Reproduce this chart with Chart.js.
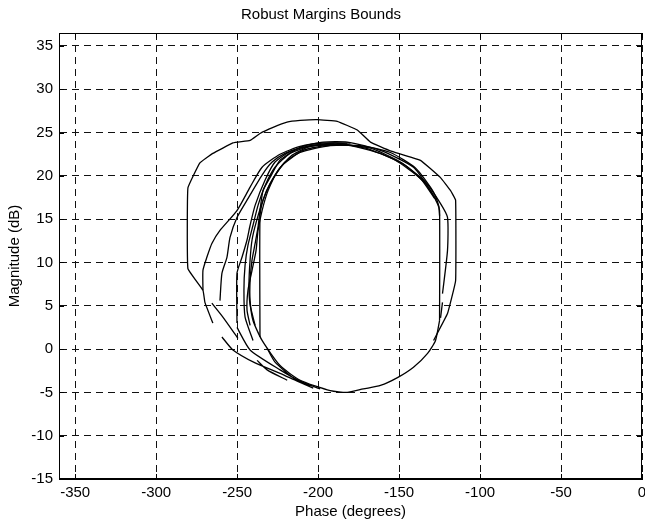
<!DOCTYPE html>
<html><head><meta charset="utf-8">
<script src="https://cdn.jsdelivr.net/npm/chart.js@4.4.1/dist/chart.umd.min.js"></script>
<style>html,body{margin:0;padding:0;background:#fff;}canvas{display:block;}</style>
</head><body>
<canvas id="c" width="645" height="524"></canvas>
<script>
// Axis ticks
const xTicks = [-350, -300, -250, -200, -150, -100, -50, 0];
const yTicks = [-15, -10, -5, 0, 5, 10, 15, 20, 25, 30, 35];

// Outer bound curve
const outerPhase = [-128.7, -120.1, -115.1, -115.1, -118.2, -124.4, -136.8, -155.4, -167.7, -175.8, -188.2, -200.6, -211.1, -219.2, -227.8, -235.9, -242.0, -252.6, -265.0, -273.0, -280.4, -280.4, -271.1, -269.9, -265.0];
const outerMag   = [1.0, 4.1, 7.9, 17.2, 18.3, 19.8, 21.8, 22.9, 23.9, 25.3, 26.3, 26.5, 26.4, 26.2, 25.6, 24.9, 24.1, 23.8, 22.6, 21.5, 18.6, 9.3, 6.8, 5.4, 3.0];

// Inner loops
const inner1Phase = [-125.0, -125.0, -126.3, -130.6, -141.1, -161.5, -182.0, -196.8, -211.1, -223.5, -229.7, -234.0, -235.9, -237.1, -238.9, -240.8, -242.0, -242.0, -240.2, -234.6, -223.5, -211.1, -192.5, -182.0, -172.1, -161.5, -151.0, -141.1, -132.4, -127.5, -125.0];
const inner1Mag   = [3.3, 16.0, 16.8, 18.3, 21.0, 22.95, 23.9, 23.9, 23.3, 21.8, 19.8, 18.3, 16.0, 14.1, 12.2, 10.3, 7.9, 5.6, 3.3, 1.0, -1.9, -3.6, -4.8, -5.0, -4.6, -4.2, -3.3, -2.1, -0.5, 1.0, 3.3];

const inner2Phase = [-123.2, -120.1, -120.1, -124.4, -133.7, -149.2, -167.7, -186.3, -204.9, -217.3, -226.6, -232.7, -237.1, -240.2, -243.3, -245.1, -245.8, -245.1, -240.2];
const inner2Mag   = [6.4, 11.4, 15.2, 16.8, 19.3, 21.6, 23.2, 23.6, 23.4, 22.6, 21.0, 18.9, 16.6, 14.3, 12.0, 9.7, 6.8, 3.7, 1.0];

const inner3Phase = [-235.9, -235.9, -234.0, -229.7, -222.2, -211.1, -192.5, -173.9, -155.4, -139.9, -129.3, -125.6, -125.0];
const inner3Mag   = [1.4, 15.2, 17.2, 19.1, 21.2, 22.7, 23.5, 23.5, 22.7, 20.9, 18.3, 16.6, 15.4];

const inner4Phase = [-180.0, -196.8, -211.1, -223.5, -234.6, -242.0, -250.1, -260.6, -265.6, -268.7, -271.1, -271.1];
const inner4Mag   = [23.8, 23.8, 23.4, 22.5, 21.0, 18.7, 16.0, 13.7, 12.2, 10.6, 9.1, 6.8];

const inner5Phase = [-182.0, -198.0, -211.1, -220.4, -228.4, -234.6, -243.9, -250.1, -254.4, -256.3, -259.4, -260.6];
const inner5Mag   = [23.7, 23.6, 23.2, 22.6, 21.6, 20.1, 17.2, 15.2, 12.9, 10.6, 8.75, 5.6];

const inner6Phase = [-190.0, -205.0, -217.3, -226.6, -232.8, -238.9, -242.0, -243.9, -247.0, -250.1, -250.1];
const inner6Mag   = [23.7, 23.5, 22.8, 21.6, 19.5, 16.6, 14.3, 12.6, 10.6, 8.75, 3.0];

const inner7Phase = [-126.9, -133.7, -146.1, -161.5, -180.1, -195.6, -209.2, -220.4, -228.4, -234.0, -238.3, -240.8, -242.0, -242.7, -242.0, -238.9];
const inner7Mag   = [17.2, 19.1, 21.2, 22.6, 23.5, 23.5, 22.95, 21.6, 19.5, 17.2, 14.6, 12.6, 10.3, 7.4, 5.1, 2.75];

const inner8Phase = [-128.1, -136.8, -152.3, -170.8, -189.4, -204.9, -216.0, -224.7, -230.9, -234.6, -237.1, -238.3, -240.8, -243.3, -243.9, -242.0];
const inner8Mag   = [17.4, 19.7, 21.8, 23.2, 23.8, 23.4, 22.4, 20.65, 18.3, 16.0, 13.7, 11.4, 9.1, 6.8, 4.5, 2.75];

// Short broken pieces near the bottom-left (null = break)
const fragPhase = [-259.4, -252.6, -238.9, -223.5, -212.9, -203.0, null, -265.6, -258.8, -249.5, null, -250.1, -242.0, -223.5, -211.1, -198.7, null, -231.5, -226.6, -215.4, -204.9, null, -237.7, -231.5, -219.1, null, -123.2, -124.4];
const fragMag   = [1.4, -0.1, -1.6, -2.8, -3.7, -4.5, null, 5.3, 3.7, 1.25, null, 2.5, -0.1, -2.4, -3.7, -4.6, null, 0.1, -1.5, -3.3, -4.3, null, -1.3, -2.4, -3.6, null, 5.4, 3.6];

const curves = [
  [outerPhase, outerMag], [inner1Phase, inner1Mag], [inner2Phase, inner2Mag],
  [inner3Phase, inner3Mag], [inner4Phase, inner4Mag], [inner5Phase, inner5Mag],
  [inner6Phase, inner6Mag], [inner7Phase, inner7Mag], [inner8Phase, inner8Mag],
  [fragPhase, fragMag]
];

function toPoints(ph, mg) {
  return ph.map((p, i) => ({ x: p, y: (p === null || mg[i] === null) ? null : mg[i] }));
}

const FONT = "'Liberation Sans', Arial, Helvetica, sans-serif";

const boxPlugin = {
  id: 'matlabBox',
  afterDraw(chart) {
    const { ctx, chartArea: a, scales: { x, y } } = chart;
    ctx.save();
    ctx.strokeStyle = '#000';
    ctx.lineWidth = 1;
    ctx.strokeRect(Math.round(a.left) + 0.5, Math.round(a.top) + 0.5,
      Math.round(a.right - a.left) - 1, Math.round(a.bottom - a.top) - 1);
    const L = 5;
    ctx.beginPath();
    x.ticks.forEach(t => {
      const px = Math.round(x.getPixelForValue(t.value)) + 0.5;
      ctx.moveTo(px, a.bottom); ctx.lineTo(px, a.bottom - L);
      ctx.moveTo(px, a.top); ctx.lineTo(px, a.top + L);
    });
    y.ticks.forEach(t => {
      const py = Math.round(y.getPixelForValue(t.value)) + 0.5;
      ctx.moveTo(a.left, py); ctx.lineTo(a.left + L, py);
      ctx.moveTo(a.right, py); ctx.lineTo(a.right - L, py);
    });
    ctx.stroke();
    ctx.restore();
  }
};

new Chart(document.getElementById('c'), {
  type: 'scatter',
  data: {
    datasets: curves.map(([ph, mg], k) => ({
      data: toPoints(ph, mg),
      showLine: true,
      borderColor: '#000',
      borderWidth: 1.3,
      pointRadius: 0,
      spanGaps: false,
      tension: k === 0 ? 0.08 : 0.2
    }))
  },
  options: {
    responsive: false,
    animation: false,
    devicePixelRatio: 1,
    layout: { padding: { left: 0, right: 3, top: 0, bottom: 0 } },
    plugins: {
      legend: { display: false },
      tooltip: { enabled: false },
      title: {
        display: true,
        text: 'Robust Margins Bounds',
        color: '#000',
        font: { family: FONT, size: 15, weight: 'normal' },
        padding: { top: 6, bottom: 9 }
      }
    },
    scales: {
      x: {
        type: 'linear',
        min: -360, max: 0,
        afterBuildTicks: s => { s.ticks = xTicks.map(v => ({ value: v })); },
        afterFit: s => { s.height = 45; s.paddingLeft = 0; s.paddingRight = 0; },
        ticks: { color: '#000', font: { family: FONT, size: 15 }, padding: 5, maxRotation: 0, autoSkip: false },
        grid: { color: '#111', lineWidth: 1, drawTicks: false, borderDash: [7, 5] },
        border: { display: true, color: '#000', width: 1, dash: [7, 5] },
        title: { display: true, text: 'Phase (degrees)', color: '#000', font: { family: FONT, size: 15 }, padding: { top: 0, bottom: 3 } }
      },
      y: {
        type: 'linear',
        min: -15, max: 36.5,
        afterBuildTicks: s => { s.ticks = yTicks.map(v => ({ value: v })); },
        afterFit: s => { s.width = 59; s.paddingTop = 0; s.paddingBottom = 0; },
        ticks: { color: '#000', font: { family: FONT, size: 15 }, padding: 6, autoSkip: false },
        grid: { color: '#111', lineWidth: 1, drawTicks: false, borderDash: [7, 5] },
        border: { display: true, color: '#000', width: 1, dash: [7, 5] },
        title: { display: true, text: 'Magnitude (dB)', color: '#000', font: { family: FONT, size: 15 }, padding: { top: 6, bottom: 0 } }
      }
    }
  },
  plugins: [boxPlugin]
});
</script>
</body></html>
